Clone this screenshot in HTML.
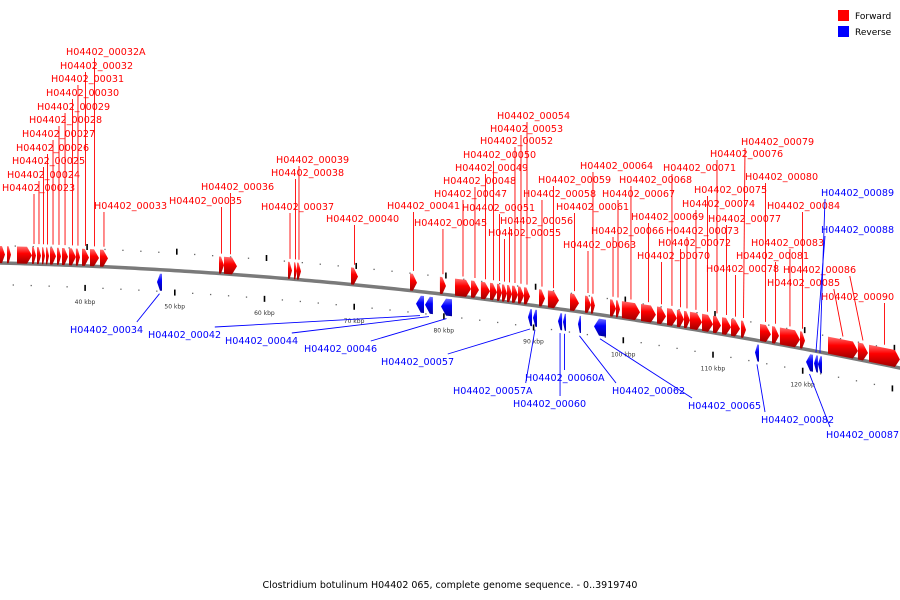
<!DOCTYPE html>
<html><head><meta charset="utf-8">
<style>
html,body{margin:0;padding:0;background:#fff;}
svg{display:block;font-family:"DejaVu Sans","Liberation Sans",sans-serif;}
</style></head>
<body>
<svg id="chart" width="900" height="600" viewBox="0 0 900 600">
<defs>
<linearGradient id="gr" x1="0" y1="0" x2="0" y2="1"><stop offset="0" stop-color="#ff7070"/><stop offset="0.4" stop-color="#ff0000"/><stop offset="1" stop-color="#a00000"/></linearGradient>
<linearGradient id="gb" x1="0" y1="0" x2="0" y2="1"><stop offset="0" stop-color="#7070ff"/><stop offset="0.4" stop-color="#0000ff"/><stop offset="1" stop-color="#0000a0"/></linearGradient>
</defs>
<g id="ticks"></g>
<path id="backbone" fill="none" stroke="#7a7a7a" stroke-width="3.5"/>
<g id="genes"></g>
<g id="labels"></g>
<g>
<rect x="838" y="10" width="11" height="11" fill="#f00"/>
<text x="855" y="19" font-size="9" fill="#000">Forward</text>
<rect x="838" y="26" width="11" height="11" fill="#00f"/>
<text x="855" y="35" font-size="9" fill="#000">Reverse</text>
</g>
<text x="450" y="588" font-size="9.5" text-anchor="middle" fill="#000">Clostridium botulinum H04402 065, complete genome sequence. - 0..3919740</text>
</svg>
<script>
const geneNames=["","","","00023","00024","00025","00026","00027","00028","00029","00030","00031","00032","00032A","00033","00034","00035","00036","00037","00038","00039","00040","00041","00042","00044","00046","00045","00047","00048","00049","00050","00051","00055","00056","00052","00053","00054","00057","00057A","00058","00059","00061","00063","00064","00060","00060A","00062","00065","00066","00067","00068","00069","00070","00071","00072","00073","00074","00075","00076","00077","00078","00079","00080","00081","00083","00084","00085","00086","00090","00082","00087","00088","00089"];
const geneStarts=[30.52,31.30,32.42,34.09,34.65,35.21,35.65,36.10,36.88,37.44,38.22,38.99,39.66,40.56,41.67,48.03,54.94,55.50,62.63,63.30,63.63,69.65,76.23,76.90,77.90,79.69,79.57,81.25,83.03,84.14,85.15,85.93,86.49,87.05,87.60,88.27,88.94,89.39,89.94,90.61,91.61,94.07,95.74,96.41,92.73,93.29,94.96,96.74,98.53,99.20,99.86,101.98,103.77,104.88,105.99,106.78,107.44,108.78,110.01,111.01,112.02,113.13,115.25,116.59,117.47,119.71,122.83,126.17,127.40,114.69,120.38,121.27,121.71];
const geneEnds=[31.08,31.75,34.09,34.54,35.09,35.54,35.99,36.77,37.32,38.11,38.99,39.44,40.45,41.56,42.56,48.58,55.50,56.94,63.08,63.63,64.08,70.43,77.01,77.79,78.79,80.91,80.24,83.03,83.92,85.15,85.93,86.49,87.05,87.60,88.27,88.94,89.61,89.83,90.39,91.28,92.84,95.07,96.41,96.85,93.19,93.62,95.29,98.08,99.20,99.64,101.87,103.65,104.77,105.99,106.78,107.44,108.78,110.01,110.90,112.02,113.02,113.69,116.47,117.37,119.71,120.27,126.17,127.29,130.85,115.14,121.16,121.71,122.16];
const geneStrands=[1,1,1,1,1,1,1,1,1,1,1,1,1,1,1,-1,1,1,1,1,1,1,1,-1,-1,-1,1,1,1,1,1,1,1,1,1,1,1,-1,-1,1,1,1,1,1,-1,-1,-1,-1,1,1,1,1,1,1,1,1,1,1,1,1,1,1,1,1,1,1,1,1,1,-1,-1,-1,-1];
const tickKbp=[40,50,60,70,80,90,100,110,120];
const tickLabels=["40 kbp","50 kbp","60 kbp","70 kbp","80 kbp","90 kbp","100 kbp","110 kbp","120 kbp"];
// label layout (x, baseline y) per gene
const labelLayout={"00023":[2,191],"00024":[7,178],"00025":[12,164],"00026":[16,151],"00027":[22,137],"00028":[29,123],"00029":[37,110],"00030":[46,96],"00031":[51,82],"00032":[60,69],"00032A":[66,55],"00033":[94,209],"00034":[70,333],"00035":[169,204],"00036":[201,190],"00037":[261,210],"00038":[271,176],"00039":[276,163],"00040":[326,222],"00041":[387,209],"00042":[148,338],"00044":[225,344],"00046":[304,352],"00045":[414,226],"00047":[434,197],"00048":[443,184],"00049":[455,171],"00050":[463,158],"00051":[462,211],"00055":[488,236],"00056":[500,224],"00052":[480,144],"00053":[490,132],"00054":[497,119],"00057":[381,365],"00057A":[453,394],"00058":[523,197],"00059":[538,183],"00061":[556,210],"00063":[563,248],"00064":[580,169],"00060":[513,407],"00060A":[525,381],"00062":[612,394],"00065":[688,409],"00066":[591,234],"00067":[602,197],"00068":[619,183],"00069":[631,220],"00070":[637,259],"00071":[663,171],"00072":[658,246],"00073":[666,234],"00074":[682,207],"00075":[694,193],"00076":[710,157],"00077":[708,222],"00078":[706,272],"00079":[741,145],"00080":[745,180],"00081":[736,259],"00083":[751,246],"00084":[767,209],"00085":[767,286],"00086":[783,273],"00090":[821,300],"00082":[761,423],"00087":[826,438],"00088":[821,233],"00089":[821,196]};

const NS="http://www.w3.org/2000/svg";
function xOf(k){return 85+(k-40)*8.97;}
function curve(x){return 263+0.0256*x+1.012e-4*x*x;}
function mk(tag,attrs,parent){const e=document.createElementNS(NS,tag);for(const a in attrs)e.setAttribute(a,attrs[a]);parent.appendChild(e);return e;}

let d="";for(let x=-5;x<=905;x+=5){d+=(x===-5?"M":"L")+x+","+curve(x).toFixed(2);}
document.getElementById("backbone").setAttribute("d",d);

const tg=document.getElementById("ticks");
for(let k=30;k<=132;k+=2){
  const xa=xOf(k)+2,xb=xOf(k);
  const major=(k%10===0);
  if(major){
    const t1=mk("rect",{x:xa-0.7,y:curve(xa)-22,width:1.6,height:6,fill:"#000"},tg);
    
    
    const t2=mk("rect",{x:xb-0.7,y:curve(xb)+19,width:1.6,height:6,fill:"#000"},tg);
    
    
  } else {
    const c1=mk("rect",{x:xa-0.6,y:curve(xa)-18,width:1.3,height:1.3,fill:"#666"},tg);
    
    
    const c2=mk("rect",{x:xb-0.6,y:curve(xb)+21,width:1.3,height:1.3,fill:"#666"},tg);
    
    
  }
}
tickKbp.forEach((k,i)=>{
  const x=xOf(k);
  const t=mk("text",{x:x,y:curve(x)+38,"font-size":"6","text-anchor":"middle",fill:"#333"},tg);
  t.textContent=tickLabels[i];
  
  
});

const gg=document.getElementById("genes"),lg=document.getElementById("labels");
geneNames.forEach((nm,i)=>{
  const x1=xOf(geneStarts[i]),x2=xOf(geneEnds[i]);
  const fwd=geneStrands[i]>0;
  const w=x2-x1,head=Math.min(5,w*0.6);
  let top,bot,pts;
  if(fwd){
    const o1=-17,o2=0;
    const xm=x2-head;
    pts=[[x1,curve(x1)+o1],[xm,curve(xm)+o1],[x2,curve(x2)+(o1+o2)/2],[xm,curve(xm)+o2],[x1,curve(x1)+o2]];
    top=curve((x1+x2)/2)+o1;bot=curve((x1+x2)/2)+o2;
  } else {
    const o1=4,o2=21;
    const xm=x1+head;
    pts=[[x1,curve(x1)+(o1+o2)/2],[xm,curve(xm)+o1],[x2,curve(x2)+o1],[x2,curve(x2)+o2],[xm,curve(xm)+o2]];
    top=curve((x1+x2)/2)+o1;bot=curve((x1+x2)/2)+o2;
  }
  const p=mk("polygon",{points:pts.map(q=>q[0].toFixed(1)+","+q[1].toFixed(1)).join(" "),fill:fwd?"url(#gr)":"url(#gb)"},gg);
  
  
  if(!nm||!labelLayout[nm])return;
  const full="H04402_"+nm;
  const [lx,ly]=labelLayout[nm];
  const col=fwd?"#f00":"#00f";
  const gx=(x1+x2)/2;
  const lw=full.length*5.9;
  const ax=Math.max(lx+4,Math.min(lx+lw-4,gx));
  let y1,y2;
  if(ly<top){y1=ly+3;y2=top-3;}else{y1=ly-11;y2=bot+3;}
  const ln=mk("line",{x1:ax,y1:y1,x2:gx,y2:y2,stroke:col,"stroke-width":"0.9"},lg);
  
  
  const t=mk("text",{x:lx,y:ly,"font-size":"9.6",fill:col},lg);
  t.textContent=full;
  
  
});
</script>
</body></html>
